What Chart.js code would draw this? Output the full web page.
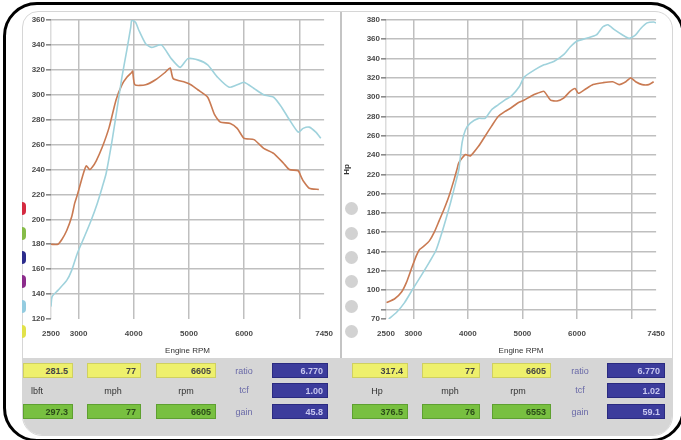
<!DOCTYPE html>
<html>
<head>
<meta charset="utf-8">
<script src="https://cdn.jsdelivr.net/npm/chart.js@4"></script>
<style>
  html, body { margin:0; padding:0; background:#fff; width:681px; height:440px; overflow:hidden; font-family:"Liberation Sans", Arial, sans-serif; }
  #stage { position:absolute; left:0; top:0; width:681px; height:440px; filter: blur(0.45px); }
  .frame { position:absolute; left:3px; top:2px; width:682px; height:440px; border:3px solid #000; border-radius:34px; box-sizing:border-box; }
  .panel { position:absolute; left:22px; top:11px; width:651px; height:425px; border:1px solid #d6d6d6; border-radius:16px 18px 20px 20px; background:#fff; overflow:hidden; box-sizing:border-box; }
  .strip { position:absolute; left:0; top:346px; width:651px; height:80px; background:#d6d6d6; }
  .sep { position:absolute; left:317px; top:0; width:2px; height:346px; background:#c4c4c4; }
  canvas { position:absolute; }
  .box { position:absolute; height:15px; box-sizing:border-box; font-size:9px; font-weight:bold; text-align:right; padding-right:4px; line-height:15px; }
  .yel { background:#eef06c; color:#444; border:1px solid #cfd060; }
  .grn { background:#78c040; color:#2a4a18; border:1px solid #5ea030; }
  .blu { background:#3c3c9c; color:#c8c8f0; border:1px solid #2a2a80; }
  .lbl { position:absolute; font-size:9px; color:#333; text-align:center; line-height:12px; width:40px; }
  .slbl { position:absolute; font-size:9px; color:#6a6aa8; text-align:center; line-height:12px; }
  .dot { position:absolute; }
</style>
</head>
<body>
<div id="stage">
  <div class="panel" id="panel">
    <div class="sep"></div>
    <div class="strip"></div>
  </div>
  <canvas id="left" width="320" height="348" style="left:20px;top:8px;"></canvas>
  <canvas id="right" width="330" height="348" style="left:342px;top:8px;"></canvas>
  <div id="deco"></div>
  <div class="frame"></div>
</div>
<script>
// ---------- data ----------
const xTicks      = [2500, 3000, 4000, 5000, 6000, 7000, 7450];
const xTickLabels = ['2500', '3000', '4000', '5000', '6000', '', '7450'];

const torqueTicks  = [120, 140, 160, 180, 200, 220, 240, 260, 280, 300, 320, 340, 360];
const hpTicks      = [70, 80, 100, 120, 140, 160, 180, 200, 220, 240, 260, 280, 300, 320, 340, 360, 380];
const hpTickLabels = ['70', '', '100', '120', '140', '160', '180', '200', '220', '240', '260', '280', '300', '320', '340', '360', '380'];

// torque (lbft) - orange run
const torqueRpmA = [2500, 2625, 2700, 2785, 2875, 2930, 2980, 3055, 3110, 3140, 3200, 3250, 3320, 3430, 3555, 3680, 3785, 3875, 3965, 3980, 4020, 4215, 4395, 4570, 4660, 4715, 4930, 5035, 5160, 5340, 5465, 5570, 5750, 5875, 6000, 6180, 6355, 6535, 6715, 6820, 6980, 7035, 7070, 7180, 7355];
const torqueA    = [180, 180, 184, 191, 202, 213, 220, 232, 240, 243, 240, 242, 247, 258, 274, 296, 308, 314, 318, 319, 308, 308, 312, 318, 321.5, 313, 310, 308, 304, 298, 284, 278, 277, 273, 265, 264, 257, 253, 245, 240, 239, 234, 231, 225, 224];
// torque (lbft) - blue run
const torqueRpmB = [2500, 2520, 2625, 2785, 2875, 2980, 3105, 3230, 3340, 3430, 3500, 3610, 3695, 3785, 3875, 3945, 3965, 4035, 4090, 4215, 4320, 4500, 4680, 4840, 4980, 5160, 5340, 5520, 5730, 5875, 6000, 6180, 6355, 6535, 6680, 6820, 6980, 7070, 7180, 7300, 7390];
const torqueB    = [130, 138, 143, 151, 159, 173, 186, 199.5, 213, 226, 237, 264, 288, 314, 336, 354, 360, 358, 352, 341, 338, 340, 329, 322, 329, 328, 324, 314, 306, 308, 310, 305, 300, 298, 290, 280, 270, 273, 274, 270, 265];

// horsepower - orange run
const hpRpmA = [2510, 2660, 2785, 2875, 2965, 3055, 3115, 3205, 3295, 3385, 3475, 3565, 3655, 3745, 3800, 3835, 3955, 4045, 4195, 4315, 4435, 4555, 4675, 4795, 4915, 5035, 5155, 5275, 5395, 5515, 5635, 5755, 5875, 5965, 6025, 6145, 6295, 6475, 6655, 6775, 6895, 6985, 7075, 7195, 7315, 7405];
const hpA    = [87, 91, 98, 108, 122, 135.5, 142, 146, 151, 160, 172, 184, 197.5, 214, 225, 232, 240.5, 239, 249, 259.5, 270, 280, 285, 289, 294, 297, 301, 304, 306, 297, 296, 299, 306, 309, 304, 308, 313, 315, 316, 313, 316, 320, 316, 313, 313, 316];
// horsepower - blue run
const hpRpmB = [2550, 2695, 2840, 2990, 3145, 3295, 3415, 3505, 3595, 3685, 3775, 3835, 3895, 3955, 4045, 4195, 4315, 4435, 4555, 4675, 4795, 4945, 5035, 5215, 5395, 5575, 5755, 5875, 5995, 6175, 6355, 6475, 6565, 6685, 6835, 6955, 7075, 7165, 7285, 7405, 7450];
const hpB    = [70, 77, 87, 101, 115, 129, 141, 156, 173, 191, 211, 225, 253, 266, 273, 278, 278, 287, 292, 297, 301, 311, 321, 328, 333.5, 337, 344, 352, 358, 361, 364.5, 373, 375, 370, 364.5, 361, 364.5, 371, 377, 378, 377];

// readout strip
const leftReadTop    = ['281.5', '77', '6605'];
const leftReadBottom = ['297.3', '77', '6605'];
const leftUnits      = ['lbft', 'mph', 'rpm'];
const leftSide       = ['6.770', '1.00', '45.8'];
const rightReadTop    = ['317.4', '77', '6605'];
const rightReadBottom = ['376.5', '76', '6553'];
const rightUnits      = ['Hp', 'mph', 'rpm'];
const rightSide       = ['6.770', '1.02', '59.1'];
const sideNames       = ['ratio', 'tcf', 'gain'];

// ---------- styles ----------
const ORANGE = '#c97a52';
const BLUE = '#9fd2dc';
const GRID = '#bfbfbf';
const TICKFONT = { family: 'Liberation Sans', size: 8, weight: 'bold' };
const TICKCOLOR = '#4a4a4a';

function pairs(xs, ys) { return xs.map((x, i) => ({ x: x, y: ys[i] })); }

function makeChart(id, opts) {
  const ctx = document.getElementById(id).getContext('2d');
  return new Chart(ctx, {
    type: 'line',
    data: {
      datasets: [
        { data: pairs(opts.rpmB, opts.valB), borderColor: BLUE, borderWidth: 1.6, pointRadius: 0, tension: 0.2 },
        { data: pairs(opts.rpmA, opts.valA), borderColor: ORANGE, borderWidth: 1.6, pointRadius: 0, tension: 0.2 }
      ]
    },
    options: {
      responsive: false, animation: false, devicePixelRatio: 1,
      layout: { padding: { top: 12, right: opts.padRight, left: 0, bottom: 0 } },
      plugins: { legend: { display: false }, tooltip: { enabled: false } },
      scales: {
        x: {
          type: 'linear', min: 2500, max: 7450,
          afterBuildTicks: s => { s.ticks = xTicks.map(v => ({ value: v })); },
          afterFit: s => { s.height = 37; },
          ticks: { autoSkip: false, maxRotation: 0, padding: 7, font: TICKFONT, color: TICKCOLOR,
                   callback: v => xTickLabels[xTicks.indexOf(v)] },
          grid: { color: c => (c.tick && c.tick.value === 7450) ? 'rgba(0,0,0,0)' : (c.tick && c.tick.value === 2500 ? '#dcdcdc' : GRID),
                  lineWidth: 1.5, tickLength: 3, tickColor: 'rgba(0,0,0,0)' },
          border: { display: false },
          title: { display: true, text: 'Engine RPM', font: { family: 'Liberation Sans', size: 8 }, color: '#333', padding: { top: 0, bottom: 0 } }
        },
        y: {
          type: 'linear', min: opts.yMin, max: opts.yMax,
          afterBuildTicks: s => { s.ticks = opts.yTicks.map(v => ({ value: v })); },
          afterFit: s => { s.width = opts.yWidth; },
          ticks: { autoSkip: false, padding: 1, font: TICKFONT, color: TICKCOLOR,
                   callback: v => opts.yLabels[opts.yTicks.indexOf(v)] },
          grid: { color: c => (c.tick && c.tick.value === opts.yMin) ? 'rgba(0,0,0,0)' : GRID,
                  lineWidth: 1.6, tickLength: 5, tickColor: '#8a8a8a' },
          border: { display: false },
          title: { display: !!opts.yTitle, text: opts.yTitle || '', font: { family: 'Liberation Sans', size: 8, weight: 'bold' }, color: '#333', padding: { top: 0, bottom: 0 } }
        }
      }
    }
  });
}

makeChart('left', {
  rpmA: torqueRpmA, valA: torqueA, rpmB: torqueRpmB, valB: torqueB,
  yMin: 120, yMax: 360, yTicks: torqueTicks, yLabels: torqueTicks.map(String),
  yWidth: 31, padRight: 15, yTitle: ''
});
makeChart('right', {
  rpmA: hpRpmA, valA: hpA, rpmB: hpRpmB, valB: hpB,
  yMin: 70, yMax: 380, yTicks: hpTicks, yLabels: hpTickLabels,
  yWidth: 44, padRight: 10, yTitle: 'Hp'
});

// ---------- decorations & readouts ----------
const deco = document.getElementById('deco');
function el(cls, style, text) {
  const d = document.createElement('div');
  d.className = cls;
  d.setAttribute('style', style);
  if (text !== undefined) d.textContent = text;
  deco.appendChild(d);
  return d;
}
const leftDotColors = ['#d42a40', '#86bc48', '#2c2c8c', '#8c2c8c', '#94cce0', '#e2e24a'];
const dotY = [208, 233, 257, 281, 306, 331];
leftDotColors.forEach((c, i) => {
  el('dot', `left:22px;top:${dotY[i] - 6}px;width:4px;height:13px;border-radius:0 6px 6px 0;background:${c};`);
});
dotY.forEach(y => {
  el('dot', `left:345px;top:${y - 6}px;width:13px;height:13px;border-radius:50%;background:#d2d2d2;`);
});

function readouts(x0, boxes, unitCenters, top, bottom, units, side) {
  boxes.forEach((b, i) => {
    el('box yel', `left:${b[0]}px;top:363px;width:${b[1]}px;`, top[i]);
    el('box grn', `left:${b[0]}px;top:404px;width:${b[1]}px;`, bottom[i]);
    el('lbl', `left:${unitCenters[i] - 20}px;top:385px;`, units[i]);
  });
  side.forEach((v, i) => {
    el('slbl', `left:${x0.lx - 15}px;top:${[365, 384, 406][i]}px;width:30px;`, sideNames[i]);
    el('box blu', `left:${x0.bx}px;top:${[363, 383, 404][i]}px;width:${x0.bw}px;`, v);
  });
}
readouts({ lx: 244, bx: 272, bw: 56 }, [[23, 50], [87, 54], [156, 60]], [37, 113, 186], leftReadTop, leftReadBottom, leftUnits, leftSide);
readouts({ lx: 580, bx: 607, bw: 58 }, [[352, 56], [422, 58], [492, 59]], [377, 450, 518], rightReadTop, rightReadBottom, rightUnits, rightSide);
</script>
</body>
</html>
